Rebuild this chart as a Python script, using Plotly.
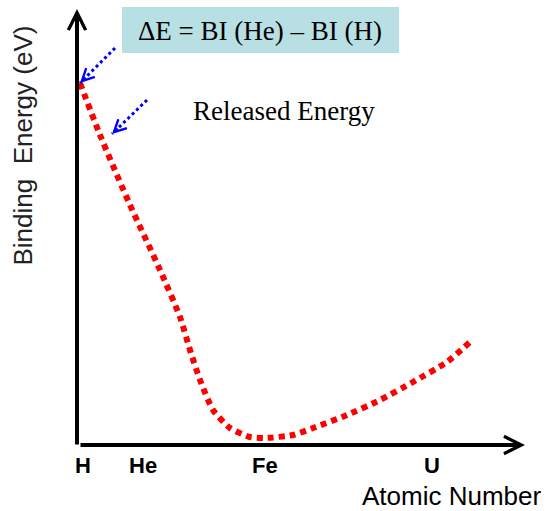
import plotly.graph_objects as go

# --- data (chart units: x = position along atomic-number axis, y = binding energy) ---
curve_x = [3, 23, 53, 83, 103, 113, 123, 136, 153, 173, 188, 216, 236, 270, 303, 336, 370, 393]
curve_y = [362, 310, 240, 175, 128, 95, 65, 35, 17, 8, 7, 10, 17, 30, 45, 63, 83, 103]

tick_labels = ["H", "He", "Fe", "U"]
tick_pos = [6, 66, 188, 355]

# blue pointer arrows: tail -> tip
arrow_tail_x = [38, 70]
arrow_tail_y = [397, 345]
arrow_tip_x = [3, 35]
arrow_tip_y = [362, 311]

x_axis_end = 448
y_axis_end = 436

W, H = 547, 511
X0, Y0 = 77, 445  # pixel location of the origin

SANS = "Liberation Sans, Arial, sans-serif"
SERIF = "Liberation Serif, Times New Roman, serif"

fig = go.Figure()

# red dotted binding-energy curve
fig.add_trace(go.Scatter(
    x=curve_x, y=curve_y, mode="lines",
    line=dict(color="#ff0000", width=6, dash="6px,5px", shape="spline", smoothing=0.6),
    hoverinfo="skip", showlegend=False))

annotations = []

# blue dotted shafts + heads
for tx, ty, hx, hy in zip(arrow_tail_x, arrow_tail_y, arrow_tip_x, arrow_tip_y):
    fig.add_trace(go.Scatter(
        x=[tx, hx], y=[ty, hy], mode="lines",
        line=dict(color="#0000ff", width=3, dash="3px,3px"),
        hoverinfo="skip", showlegend=False))
    dx, dy = tx - hx, ty - hy
    n = (dx * dx + dy * dy) ** 0.5
    annotations.append(dict(
        x=hx, y=hy, ax=hx + dx / n * 10, ay=hy + dy / n * 10,
        xref="x", yref="y", axref="x", ayref="y", text="",
        showarrow=True, arrowhead=5, arrowsize=1.2, arrowwidth=2, arrowcolor="#0000ff"))

# axes with arrowheads
annotations.append(dict(x=0, y=y_axis_end, ax=0, ay=-1, xref="x", yref="y", axref="x", ayref="y",
                        text="", showarrow=True, arrowhead=5, arrowsize=0.85, arrowwidth=4,
                        arrowcolor="#000000"))
annotations.append(dict(x=x_axis_end, y=0, ax=2, ay=0, xref="x", yref="y", axref="x", ayref="y",
                        text="", showarrow=True, arrowhead=5, arrowsize=0.85, arrowwidth=4,
                        arrowcolor="#000000"))

# tick labels
for lab, pos in zip(tick_labels, tick_pos):
    annotations.append(dict(x=pos, y=-20, xref="x", yref="y", text=f"<b>{lab}</b>", showarrow=False,
                            font=dict(family=SANS, size=22, color="#000000"),
                            xanchor="center", yanchor="middle"))

annotations.append(dict(x=374, y=-50.5, xref="x", yref="y", text="Atomic Number", showarrow=False,
                        font=dict(family=SANS, size=26, color="#000000"),
                        xanchor="center", yanchor="middle"))
annotations.append(dict(x=-55, y=299.5, xref="x", yref="y", text="Binding&nbsp; Energy (eV)",
                        showarrow=False, textangle=-90,
                        font=dict(family=SANS, size=26, color="#222222"),
                        xanchor="center", yanchor="middle"))

annotations.append(dict(x=183, y=414.5, xref="x", yref="y", text="ΔE = BI (He) – BI (H)",
                        showarrow=False, font=dict(family=SERIF, size=27, color="#000000"),
                        xanchor="center", yanchor="middle"))
annotations.append(dict(x=207, y=334, xref="x", yref="y", text="Released Energy",
                        showarrow=False, font=dict(family=SERIF, size=27, color="#000000"),
                        xanchor="center", yanchor="middle"))

shapes = [dict(type="rect", xref="x", yref="y", x0=45, x1=322, y0=392, y1=438,
               fillcolor="#b8dfe3", line=dict(width=0), layer="below")]

fig.update_layout(
    width=W, height=H,
    margin=dict(l=0, r=0, t=0, b=0),
    paper_bgcolor="white", plot_bgcolor="white",
    xaxis=dict(range=[-X0, W - X0], visible=False, fixedrange=True),
    yaxis=dict(range=[Y0 - H, Y0], visible=False, fixedrange=True),
    annotations=annotations, shapes=shapes,
)

fig.write_html("out.html", config={"displayModeBar": False},
               post_script="document.body.style.margin='0';document.body.style.padding='0';"
                           "document.documentElement.style.overflow='hidden';")
